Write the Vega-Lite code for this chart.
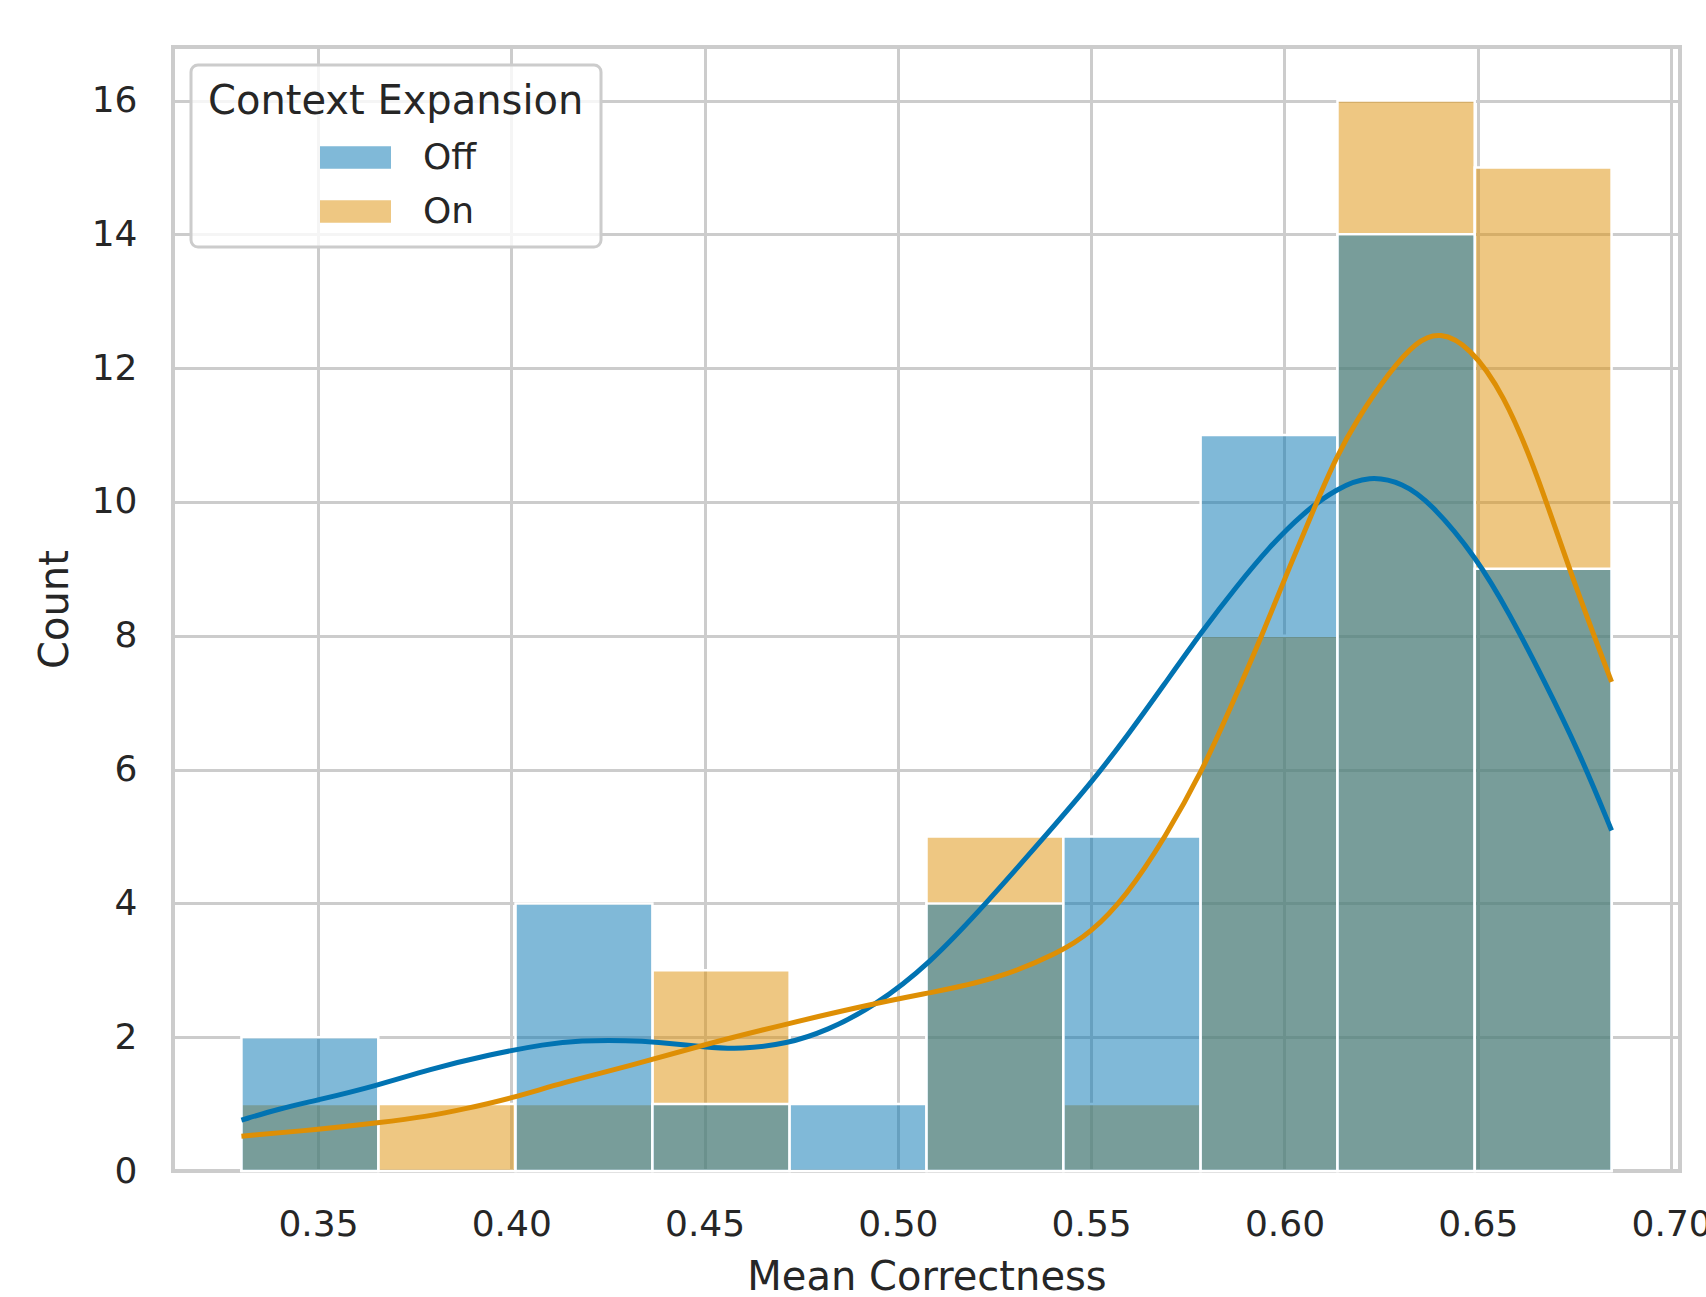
{
  "$schema": "https://vega.github.io/schema/vega-lite/v6.json",
  "autosize": {"type": "none"},
  "width": 1507,
  "height": 1124,
  "padding": {"left": 173, "top": 47, "right": 26, "bottom": 126},
  "background": "white",
  "config": {
    "font": "DejaVu Sans",
    "view": {"stroke": "#cccccc", "strokeWidth": 4},
    "axis": {
      "gridColor": "#cccccc", "gridWidth": 3, "domain": false, "ticks": false,
      "labelFont": "DejaVu Sans", "titleFont": "DejaVu Sans",
      "labelColor": "#262626", "titleColor": "#262626", "titleFontWeight": "normal",
      "labelFontSize": 36, "titleFontSize": 40
    },
    "legend": {
      "orient": "none", "legendX": 18, "legendY": 18,
      "fillColor": "rgba(255,255,255,0.8)", "strokeColor": "#cccccc", "strokeWidth": 3,
      "cornerRadius": 7, "padding": 17,
      "titleFont": "DejaVu Sans", "labelFont": "DejaVu Sans",
      "titleFontSize": 40, "titleFontWeight": "normal", "titleColor": "#262626", "titlePadding": 0, "titleLimit": 800,
      "labelFontSize": 36, "labelColor": "#262626",
      "symbolType": "M-1,-0.32H1V0.32H-1Z", "symbolSize": 5041, "symbolOffset": 112, "labelOffset": 32,
      "symbolStrokeWidth": 0, "symbolOpacity": 0.5, "rowPadding": 0
    }
  },
  "datasets": {
    "hist": [
      {"bin_start": 0.3302, "bin_end": 0.3656, "count": 1, "group": "On"},
      {"bin_start": 0.3656, "bin_end": 0.4011, "count": 1, "group": "On"},
      {"bin_start": 0.4011, "bin_end": 0.4365, "count": 1, "group": "On"},
      {"bin_start": 0.4365, "bin_end": 0.4720, "count": 3, "group": "On"},
      {"bin_start": 0.5074, "bin_end": 0.5428, "count": 5, "group": "On"},
      {"bin_start": 0.5428, "bin_end": 0.5783, "count": 1, "group": "On"},
      {"bin_start": 0.5783, "bin_end": 0.6137, "count": 8, "group": "On"},
      {"bin_start": 0.6137, "bin_end": 0.6492, "count": 16, "group": "On"},
      {"bin_start": 0.6492, "bin_end": 0.6846, "count": 15, "group": "On"},
      {"bin_start": 0.3302, "bin_end": 0.3656, "count": 2, "group": "Off"},
      {"bin_start": 0.4011, "bin_end": 0.4365, "count": 4, "group": "Off"},
      {"bin_start": 0.4365, "bin_end": 0.4720, "count": 1, "group": "Off"},
      {"bin_start": 0.4720, "bin_end": 0.5074, "count": 1, "group": "Off"},
      {"bin_start": 0.5074, "bin_end": 0.5428, "count": 4, "group": "Off"},
      {"bin_start": 0.5428, "bin_end": 0.5783, "count": 5, "group": "Off"},
      {"bin_start": 0.5783, "bin_end": 0.6137, "count": 11, "group": "Off"},
      {"bin_start": 0.6137, "bin_end": 0.6492, "count": 14, "group": "Off"},
      {"bin_start": 0.6492, "bin_end": 0.6846, "count": 9, "group": "Off"}
    ],
    "kde": [
      {"x": 0.3302, "density": 0.76, "group": "Off"},
      {"x": 0.3399, "density": 0.93, "group": "Off"},
      {"x": 0.3500, "density": 1.06, "group": "Off"},
      {"x": 0.3649, "density": 1.27, "group": "Off"},
      {"x": 0.3788, "density": 1.52, "group": "Off"},
      {"x": 0.3943, "density": 1.74, "group": "Off"},
      {"x": 0.4090, "density": 1.90, "group": "Off"},
      {"x": 0.4176, "density": 1.95, "group": "Off"},
      {"x": 0.4306, "density": 1.95, "group": "Off"},
      {"x": 0.4370, "density": 1.93, "group": "Off"},
      {"x": 0.4505, "density": 1.85, "group": "Off"},
      {"x": 0.4594, "density": 1.82, "group": "Off"},
      {"x": 0.4713, "density": 1.90, "group": "Off"},
      {"x": 0.4817, "density": 2.10, "group": "Off"},
      {"x": 0.4936, "density": 2.45, "group": "Off"},
      {"x": 0.5080, "density": 3.08, "group": "Off"},
      {"x": 0.5236, "density": 4.05, "group": "Off"},
      {"x": 0.5365, "density": 4.90, "group": "Off"},
      {"x": 0.5499, "density": 5.79, "group": "Off"},
      {"x": 0.5598, "density": 6.54, "group": "Off"},
      {"x": 0.5685, "density": 7.24, "group": "Off"},
      {"x": 0.5788, "density": 8.08, "group": "Off"},
      {"x": 0.5875, "density": 8.73, "group": "Off"},
      {"x": 0.5961, "density": 9.33, "group": "Off"},
      {"x": 0.6047, "density": 9.83, "group": "Off"},
      {"x": 0.6134, "density": 10.20, "group": "Off"},
      {"x": 0.6220, "density": 10.40, "group": "Off"},
      {"x": 0.6307, "density": 10.28, "group": "Off"},
      {"x": 0.6376, "density": 10.00, "group": "Off"},
      {"x": 0.6497, "density": 9.17, "group": "Off"},
      {"x": 0.6583, "density": 8.32, "group": "Off"},
      {"x": 0.6669, "density": 7.36, "group": "Off"},
      {"x": 0.6764, "density": 6.24, "group": "Off"},
      {"x": 0.6846, "density": 5.09, "group": "Off"},
      {"x": 0.3302, "density": 0.52, "group": "On"},
      {"x": 0.3500, "density": 0.62, "group": "On"},
      {"x": 0.3658, "density": 0.72, "group": "On"},
      {"x": 0.3788, "density": 0.82, "group": "On"},
      {"x": 0.3874, "density": 0.92, "group": "On"},
      {"x": 0.4003, "density": 1.09, "group": "On"},
      {"x": 0.4133, "density": 1.32, "group": "On"},
      {"x": 0.4306, "density": 1.57, "group": "On"},
      {"x": 0.4505, "density": 1.90, "group": "On"},
      {"x": 0.4713, "density": 2.20, "group": "On"},
      {"x": 0.4936, "density": 2.50, "group": "On"},
      {"x": 0.5080, "density": 2.66, "group": "On"},
      {"x": 0.5253, "density": 2.86, "group": "On"},
      {"x": 0.5417, "density": 3.26, "group": "On"},
      {"x": 0.5499, "density": 3.56, "group": "On"},
      {"x": 0.5590, "density": 4.10, "group": "On"},
      {"x": 0.5693, "density": 5.00, "group": "On"},
      {"x": 0.5788, "density": 5.99, "group": "On"},
      {"x": 0.5858, "density": 6.89, "group": "On"},
      {"x": 0.5944, "density": 8.03, "group": "On"},
      {"x": 0.6013, "density": 9.03, "group": "On"},
      {"x": 0.6082, "density": 9.98, "group": "On"},
      {"x": 0.6134, "density": 10.67, "group": "On"},
      {"x": 0.6186, "density": 11.22, "group": "On"},
      {"x": 0.6272, "density": 11.95, "group": "On"},
      {"x": 0.6341, "density": 12.40, "group": "On"},
      {"x": 0.6402, "density": 12.55, "group": "On"},
      {"x": 0.6479, "density": 12.32, "group": "On"},
      {"x": 0.6566, "density": 11.63, "group": "On"},
      {"x": 0.6652, "density": 10.45, "group": "On"},
      {"x": 0.6738, "density": 8.96, "group": "On"},
      {"x": 0.6846, "density": 7.31, "group": "On"}
    ]
  },
  "layer": [
    {
      "data": {"name": "hist"},
      "mark": {"type": "bar", "fillOpacity": 0.5, "stroke": "white", "strokeWidth": 2.5, "strokeOpacity": 1},
      "encoding": {
        "x": {"field": "bin_start", "type": "quantitative",
          "scale": {"domain": [0.3125, 0.7023], "nice": false, "zero": false},
          "axis": {"values": [0.35, 0.4, 0.45, 0.5, 0.55, 0.6, 0.65, 0.7], "format": ".2f", "labelPadding": 36, "titlePadding": 15, "title": "Mean Correctness", "labelFlush": false}},
        "x2": {"field": "bin_end"},
        "y": {"field": "count", "type": "quantitative", "stack": null,
          "scale": {"domain": [0, 16.8], "nice": false},
          "axis": {"values": [0, 2, 4, 6, 8, 10, 12, 14, 16], "format": "d", "labelPadding": 36, "titlePadding": 16, "title": "Count"}},
        "y2": {"datum": 0},
        "color": {"field": "group", "type": "nominal",
          "scale": {"domain": ["Off", "On"], "range": ["#0173b2", "#de8f05"]},
          "legend": {"title": "Context Expansion"}}
      }
    },
    {
      "data": {"name": "kde"},
      "mark": {"type": "line", "strokeWidth": 5, "interpolate": "basis"},
      "encoding": {
        "x": {"field": "x", "type": "quantitative"},
        "y": {"field": "density", "type": "quantitative"},
        "color": {"field": "group", "type": "nominal", "legend": null}
      }
    }
  ]
}
